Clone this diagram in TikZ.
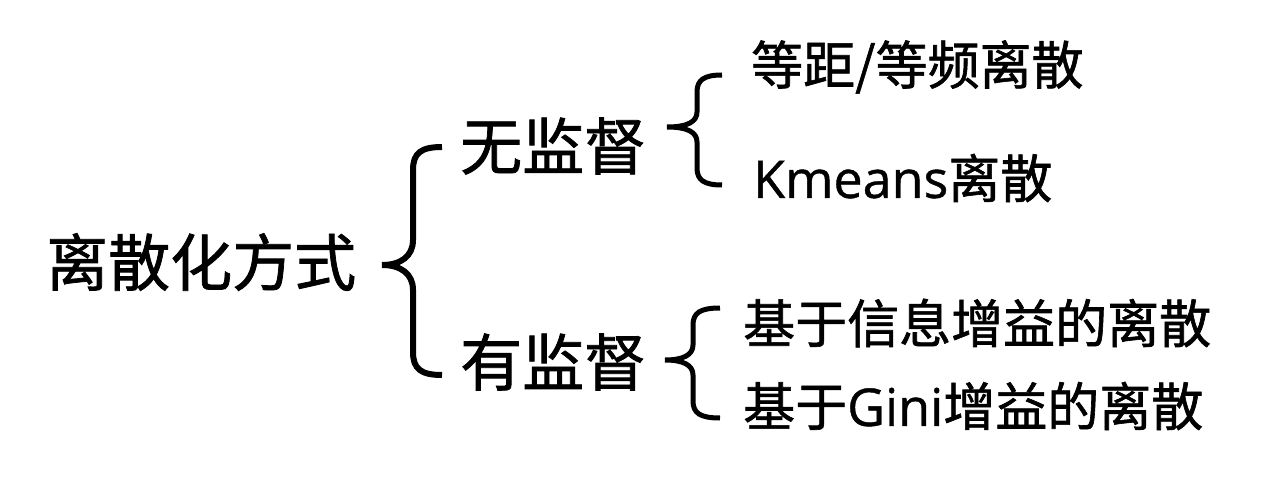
\documentclass[tikz,border=0pt]{standalone}
\usepackage{fontspec}
\setmainfont{Noto Sans CJK SC}[FakeBold=1.2]
\newfontfamily\lat{Open Sans}[FakeBold=0.8]
\begin{document}
\begin{tikzpicture}[x=1pt,y=-1pt,
  big/.style={anchor=west,inner sep=0pt,font=\fontsize{62}{70}\selectfont},
  small/.style={anchor=west,inner sep=0pt,font=\fontsize{52}{60}\selectfont},
  bigbrace/.style={line width=6pt,line join=miter},
  smallbrace/.style={line width=5pt,line join=miter}]
\fill[white] (0,0) rectangle (1286,484);
\useasboundingbox (0,0) rectangle (1286,484);

\node[big] (root) at (46,262) {离散化方式};
\node[big] (unsup) at (460,146) {无监督};
\node[big] (sup) at (460,362) {有监督};
\node[small] (eq) at (751,67) {等距/等频离散};
\node[small] (km) at (753,178) {{\lat Kmeans}离散};
\node[small] (ig) at (743,323) {基于信息增益的离散};
\node[small] (gi) at (743,406) {基于{\lat Gini}增益的离散};

% big brace
\draw[bigbrace] (442,147) .. controls (421,147) and (413,153) .. (413,170) -- (413,240)
  .. controls (413,256) and (401,265) .. (382,265)
  .. controls (401,265) and (413,274) .. (413,290) -- (413,352)
  .. controls (413,369) and (421,375) .. (442,375);
% upper small brace
\draw[smallbrace] (722,75) .. controls (704,75) and (697,80) .. (697,92) -- (697,112)
  .. controls (697,122) and (687,127) .. (667,127)
  .. controls (687,127) and (697,132) .. (697,142) -- (697,168)
  .. controls (697,180) and (704,185) .. (722,185);
% lower small brace
\draw[smallbrace] (720,308) .. controls (700,308) and (693,313) .. (693,325) -- (693,345)
  .. controls (693,355) and (683,360) .. (665,360)
  .. controls (683,360) and (693,365) .. (693,375) -- (693,401)
  .. controls (693,413) and (700,418) .. (720,418);
\end{tikzpicture}
\end{document}
